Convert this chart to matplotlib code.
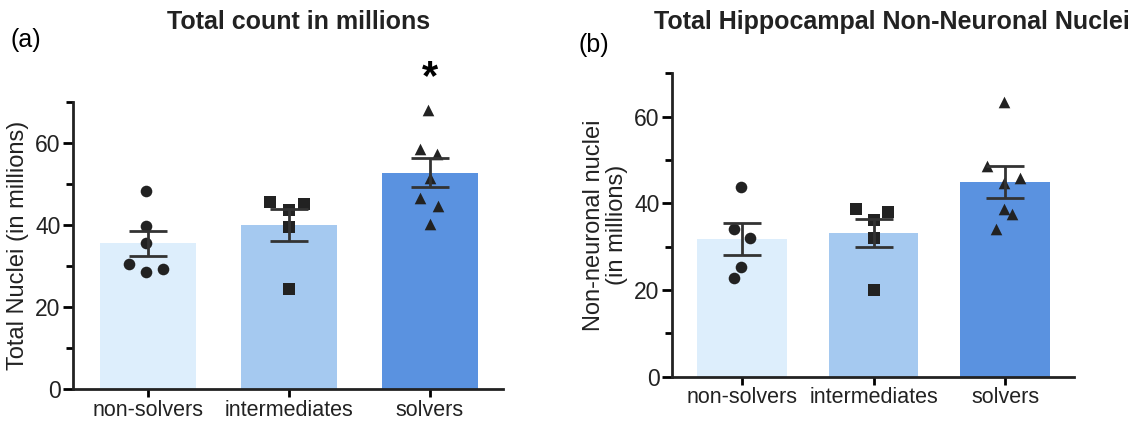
import numpy as np
import matplotlib
matplotlib.use('Agg')
import matplotlib.pyplot as plt
from matplotlib.ticker import MultipleLocator

plt.rcParams['font.family'] = ['Liberation Sans', 'DejaVu Sans']

groups = ['non-solvers', 'intermediates', 'solvers']
colors = ['#ddeefc', '#a5c9f0', '#5a92e0']
markers = ['o', 's', '^']

# (a) total nuclei, millions
total_mean = [35.6, 40.0, 52.8]
total_sem = [3.0, 3.85, 3.55]
total_pts = [
    [48.4, 39.9, 35.7, 30.6, 28.6, 29.2],
    [45.7, 43.7, 45.1, 39.5, 24.5],
    [68.2, 58.6, 57.3, 51.6, 46.7, 44.7, 40.4],
]
total_jit = [
    [-0.01, -0.01, -0.01, -0.13, -0.01, 0.11],
    [-0.13, 0.0, 0.11, 0.0, 0.0],
    [-0.01, -0.07, 0.05, 0.0, -0.07, 0.06, 0.0],
]

# (b) non-neuronal nuclei, millions
nonneu_mean = [31.8, 33.2, 45.0]
nonneu_sem = [3.75, 3.25, 3.7]
nonneu_pts = [
    [43.7, 34.1, 32.0, 25.3, 22.7],
    [38.6, 38.1, 36.2, 32.0, 20.0],
    [63.3, 48.5, 45.8, 44.7, 38.7, 37.6, 34.1],
]
nonneu_jit = [
    [-0.01, -0.06, 0.06, -0.01, -0.06],
    [-0.13, 0.11, 0.0, 0.0, 0.0],
    [-0.01, -0.14, 0.11, -0.01, -0.01, 0.05, -0.07],
]

fig = plt.figure(figsize=(11.41, 4.24), dpi=100)
axA = fig.add_axes([0.064, 0.082, 0.377, 0.677])
axB = fig.add_axes([0.589, 0.112, 0.352, 0.715])


def draw(ax, means, sems, pts, jit, ylabel):
    x = np.arange(len(groups))
    ax.bar(x, means, width=0.68, color=colors, zorder=1)
    for i in range(len(groups)):
        ax.scatter(x[i] + np.array(jit[i]), pts[i], marker=markers[i],
                   s=70, color='#222222', zorder=3, linewidths=0)
        ax.errorbar(x[i], means[i], yerr=sems[i], fmt='none', ecolor='#333333',
                    elinewidth=2, capsize=14, capthick=2, zorder=4)
    ax.set_xlim(-0.53, 2.52)
    ax.set_ylim(0, 70)
    ax.set_xticks(x)
    ax.set_xticklabels(groups, fontsize=15.5, color='#222222')
    ax.set_yticks([0, 20, 40, 60])
    ax.yaxis.set_minor_locator(MultipleLocator(10))
    ax.tick_params(axis='y', labelsize=16.5, labelcolor='#222222', width=2,
                   length=7, pad=2)
    ax.tick_params(axis='y', which='minor', width=2, length=5)
    ax.tick_params(axis='x', width=2, length=6, pad=1.5)
    for s in ['top', 'right']:
        ax.spines[s].set_visible(False)
    for s in ['left', 'bottom']:
        ax.spines[s].set_linewidth(2)
        ax.spines[s].set_color('#222222')
    ax.set_ylabel(ylabel, fontsize=17, linespacing=1.1, color='#222222')


draw(axA, total_mean, total_sem, total_pts, total_jit, 'Total Nuclei (in millions)')
draw(axB, nonneu_mean, nonneu_sem, nonneu_pts, nonneu_jit,
     'Non-neuronal nuclei\n(in millions)')

axA.text(2, 76, '*', ha='center', va='center', fontsize=30, fontweight='bold',
         clip_on=False)

fig.text(0.009, 0.905, '(a)', fontsize=18, va='center')
fig.text(0.146, 0.948, 'Total count in millions', fontsize=18,
         fontweight='bold', va='center', color='#222222')
fig.text(0.507, 0.895, '(b)', fontsize=18, va='center')
fig.text(0.573, 0.948, 'Total Hippocampal Non-Neuronal Nuclei', fontsize=18,
         fontweight='bold', va='center', color='#222222')

fig.savefig('out.png', dpi=100)
